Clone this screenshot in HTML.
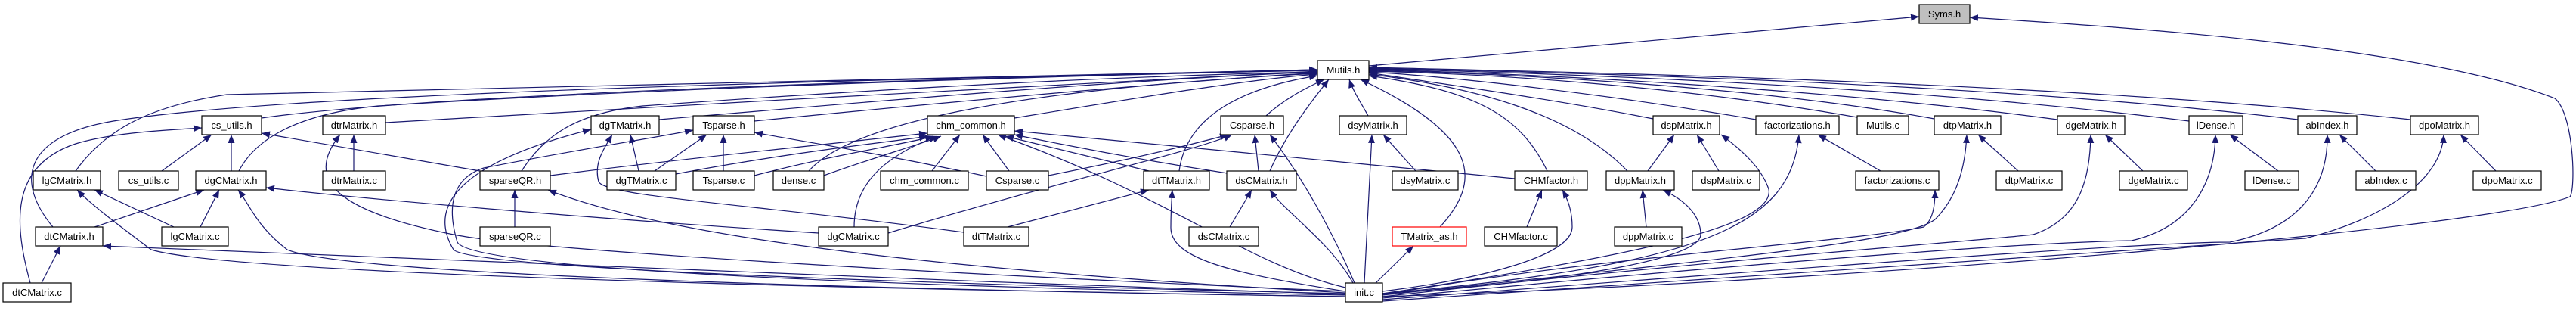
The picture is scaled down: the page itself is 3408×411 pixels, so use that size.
<!DOCTYPE html>
<html><head><meta charset="utf-8">
<style>
html,body{margin:0;padding:0;background:#fff;}
svg{display:block;}
text{font-family:"Liberation Sans",sans-serif;font-size:13px;fill:#000;text-anchor:middle;}
.n{fill:#fff;stroke:#000;stroke-width:1.2;}
.e{fill:none;stroke:#191970;stroke-width:1.2;marker-end:url(#a);}
</style></head><body>
<svg width="3408" height="411" viewBox="0 0 3408 411" xmlns="http://www.w3.org/2000/svg">
<defs><marker id="a" markerUnits="userSpaceOnUse" markerWidth="12" markerHeight="9" refX="11" refY="4.5" orient="auto"><path d="M0,0 L11,4.5 L0,9 z" fill="#191970"/></marker></defs>
<g>
<path class="e" d="M1811,87 L2539,22"/>
<path class="e" d="M1829,392 C2500,370 3300,300 3400,260 C3408,250 3405,150 3380,130 C3200,60 2800,35 2606,23"/>
<path class="e" d="M100,226 C140,170 200,140 300,125 C700,115 1400,100 1743,92"/>
<path class="e" d="M70,300 C20,240 30,180 150,160 C400,120 1200,105 1743,92"/>
<path class="e" d="M346,156 C600,120 1400,100 1743,92"/>
<path class="e" d="M316,226 C340,180 400,150 500,140 C900,115 1400,100 1743,93"/>
<path class="e" d="M510,162 C900,140 1400,110 1743,94"/>
<path class="e" d="M872,158 C1200,130 1500,105 1743,95"/>
<path class="e" d="M690,226 C720,180 760,150 850,140 C1200,115 1500,100 1743,95"/>
<path class="e" d="M998,160 C1300,130 1600,105 1743,96"/>
<path class="e" d="M1342,156 C1500,130 1650,105 1743,98"/>
<path class="e" d="M1070,226 C1120,170 1300,120 1743,97"/>
<path class="e" d="M1560,226 C1570,150 1650,115 1743,100"/>
<path class="e" d="M1675,153 C1700,130 1730,115 1752,105"/>
<path class="e" d="M1680,226 C1700,180 1730,140 1758,105"/>
<path class="e" d="M1810,153 C1800,135 1790,120 1785,105"/>
<path class="e" d="M1905,300 C1960,240 1960,180 1800,105"/>
<path class="e" d="M2047,226 C2010,150 1950,120 1811,100"/>
<path class="e" d="M2153,226 C2080,150 1950,115 1811,98"/>
<path class="e" d="M2187,157 C2050,130 1900,110 1811,96"/>
<path class="e" d="M2323,158 C2100,120 1900,100 1811,95"/>
<path class="e" d="M2457,155 C2200,110 1950,97 1811,94"/>
<path class="e" d="M2559,157 C2300,110 1950,96 1811,93"/>
<path class="e" d="M2722,158 C2400,115 2000,96 1811,92"/>
<path class="e" d="M2896,160 C2500,110 2000,95 1811,91"/>
<path class="e" d="M3040,158 C2600,105 2000,95 1811,90"/>
<path class="e" d="M3189,158 C2700,105 2000,94 1811,89"/>
<path class="e" d="M214,226 L280,178"/>
<path class="e" d="M306,226 L306,178"/>
<path class="e" d="M635,226 L346,176"/>
<path class="e" d="M40,374 C20,300 10,220 100,190 C150,175 220,172 267,169"/>
<path class="e" d="M468,226 L468,178"/>
<path class="e" d="M1780,385 C1200,360 700,330 600,310 C450,280 400,240 450,178"/>
<path class="e" d="M845,226 L834,178"/>
<path class="e" d="M1275,307 C1000,270 800,260 792,240 C785,215 800,195 810,178"/>
<path class="e" d="M1780,388 C1000,370 620,350 600,330 C570,280 590,220 782,171"/>
<path class="e" d="M1780,390 C1000,375 620,350 605,320 C590,270 600,235 640,222 C750,200 850,185 917,172"/>
<path class="e" d="M1780,392 C1000,380 300,360 200,330 C160,300 120,270 102,251"/>
<path class="e" d="M230,300 L125,251"/>
<path class="e" d="M265,300 L290,251"/>
<path class="e" d="M125,300 L270,251"/>
<path class="e" d="M1780,392 C1000,380 450,360 380,330 C340,300 330,270 315,251"/>
<path class="e" d="M1083,308 C800,290 500,265 352,248"/>
<path class="e" d="M55,374 L80,325"/>
<path class="e" d="M1780,389 C1200,370 500,340 136,325"/>
<path class="e" d="M1780,387 C1300,360 900,320 725,251"/>
<path class="e" d="M681,300 L681,251"/>
<path class="e" d="M866,226 L935,178"/>
<path class="e" d="M957,226 L957,178"/>
<path class="e" d="M1305,233 C1150,200 1050,185 998,175"/>
<path class="e" d="M894,230 C1050,200 1200,185 1227,180"/>
<path class="e" d="M998,232 C1100,205 1200,190 1235,180"/>
<path class="e" d="M1090,232 C1150,210 1220,190 1245,180"/>
<path class="e" d="M1233,226 L1270,178"/>
<path class="e" d="M1335,226 L1300,178"/>
<path class="e" d="M1130,300 C1130,250 1160,210 1240,180"/>
<path class="e" d="M1780,380 C1650,350 1550,260 1320,178"/>
<path class="e" d="M1520,226 L1330,180"/>
<path class="e" d="M1630,230 C1500,210 1400,190 1342,178"/>
<path class="e" d="M2004,236 C1800,215 1500,190 1342,173"/>
<path class="e" d="M728,232 C900,210 1100,190 1227,176"/>
<path class="e" d="M1387,232 C1500,210 1580,190 1625,178"/>
<path class="e" d="M1175,308 C1400,240 1580,200 1630,178"/>
<path class="e" d="M1665,226 L1660,178"/>
<path class="e" d="M1792,374 C1760,300 1720,230 1680,178"/>
<path class="e" d="M1333,300 L1520,251"/>
<path class="e" d="M1780,385 C1620,360 1548,340 1549,300 C1549,280 1550,265 1551,251"/>
<path class="e" d="M1627,300 L1656,251"/>
<path class="e" d="M1790,374 C1760,320 1700,280 1680,251"/>
<path class="e" d="M1873,226 L1830,178"/>
<path class="e" d="M1805,374 L1815,178"/>
<path class="e" d="M1820,374 L1870,325"/>
<path class="e" d="M2020,300 L2040,251"/>
<path class="e" d="M1829,385 C1950,370 2080,340 2080,300 C2080,280 2075,265 2067,251"/>
<path class="e" d="M2180,226 L2215,178"/>
<path class="e" d="M2274,226 L2245,178"/>
<path class="e" d="M1829,388 C2150,340 2350,300 2340,250 C2330,220 2300,195 2277,178"/>
<path class="e" d="M2178,300 L2173,251"/>
<path class="e" d="M1829,388 C2100,370 2250,340 2250,310 C2250,285 2230,265 2200,251"/>
<path class="e" d="M2488,226 L2405,178"/>
<path class="e" d="M1829,388 C2250,350 2370,300 2380,178"/>
<path class="e" d="M1829,390 C2100,340 2450,320 2545,300 C2558,290 2560,270 2560,251"/>
<path class="e" d="M2670,226 L2617,178"/>
<path class="e" d="M1829,390 C2300,340 2520,320 2560,290 C2590,260 2600,220 2602,178"/>
<path class="e" d="M2835,226 L2785,178"/>
<path class="e" d="M1829,392 C2300,340 2600,320 2690,310 C2750,290 2765,240 2766,178"/>
<path class="e" d="M3014,226 L2950,178"/>
<path class="e" d="M1829,394 C2400,340 2700,320 2820,318 C2900,300 2930,240 2931,178"/>
<path class="e" d="M3143,226 L3095,178"/>
<path class="e" d="M1829,396 C2500,345 2850,320 2950,320 C3050,300 3080,240 3079,178"/>
<path class="e" d="M3302,226 L3255,178"/>
<path class="e" d="M1829,398 C2500,350 3000,320 3050,315 C3150,290 3230,240 3233,178"/>
</g>
<g>
<rect x="2539" y="6" width="67" height="25" fill="#bfbfbf" stroke="#000" stroke-width="1.2"/><text x="2572.5" y="23">Syms.h</text>
<rect class="n" x="1743" y="80" width="68" height="25"/><text x="1777" y="97">Mutils.h</text>
<rect class="n" x="267" y="153" width="79" height="25"/><text x="306.5" y="170">cs_utils.h</text>
<rect class="n" x="427" y="153" width="83" height="25"/><text x="468.5" y="170">dtrMatrix.h</text>
<rect class="n" x="782" y="153" width="90" height="25"/><text x="827" y="170">dgTMatrix.h</text>
<rect class="n" x="917" y="153" width="81" height="25"/><text x="957.5" y="170">Tsparse.h</text>
<rect class="n" x="1227" y="153" width="115" height="25"/><text x="1284.5" y="170">chm_common.h</text>
<rect class="n" x="1615" y="153" width="83" height="25"/><text x="1656.5" y="170">Csparse.h</text>
<rect class="n" x="1772" y="153" width="89" height="25"/><text x="1816.5" y="170">dsyMatrix.h</text>
<rect class="n" x="2187" y="153" width="88" height="25"/><text x="2231" y="170">dspMatrix.h</text>
<rect class="n" x="2323" y="153" width="110" height="25"/><text x="2378" y="170">factorizations.h</text>
<rect class="n" x="2457" y="153" width="68" height="25"/><text x="2491" y="170">Mutils.c</text>
<rect class="n" x="2559" y="153" width="88" height="25"/><text x="2603" y="170">dtpMatrix.h</text>
<rect class="n" x="2722" y="153" width="89" height="25"/><text x="2766.5" y="170">dgeMatrix.h</text>
<rect class="n" x="2896" y="153" width="71" height="25"/><text x="2931.5" y="170">lDense.h</text>
<rect class="n" x="3040" y="153" width="78" height="25"/><text x="3079" y="170">abIndex.h</text>
<rect class="n" x="3189" y="153" width="90" height="25"/><text x="3234" y="170">dpoMatrix.h</text>

<rect class="n" x="44" y="226" width="89" height="25"/><text x="88.5" y="243">lgCMatrix.h</text>
<rect class="n" x="157" y="226" width="79" height="25"/><text x="196.5" y="243">cs_utils.c</text>
<rect class="n" x="259" y="226" width="93" height="25"/><text x="305.5" y="243">dgCMatrix.h</text>
<rect class="n" x="427" y="226" width="83" height="25"/><text x="468.5" y="243">dtrMatrix.c</text>
<rect class="n" x="635" y="226" width="93" height="25"/><text x="681.5" y="243">sparseQR.h</text>
<rect class="n" x="803" y="226" width="91" height="25"/><text x="848.5" y="243">dgTMatrix.c</text>
<rect class="n" x="917" y="226" width="81" height="25"/><text x="957.5" y="243">Tsparse.c</text>
<rect class="n" x="1023" y="226" width="67" height="25"/><text x="1056.5" y="243">dense.c</text>
<rect class="n" x="1165" y="226" width="116" height="25"/><text x="1223" y="243">chm_common.c</text>
<rect class="n" x="1305" y="226" width="82" height="25"/><text x="1346" y="243">Csparse.c</text>
<rect class="n" x="1513" y="226" width="87" height="25"/><text x="1556.5" y="243">dtTMatrix.h</text>
<rect class="n" x="1623" y="226" width="92" height="25"/><text x="1669" y="243">dsCMatrix.h</text>
<rect class="n" x="1842" y="226" width="87" height="25"/><text x="1885.5" y="243">dsyMatrix.c</text>
<rect class="n" x="2004" y="226" width="96" height="25"/><text x="2052" y="243">CHMfactor.h</text>
<rect class="n" x="2125" y="226" width="90" height="25"/><text x="2170" y="243">dppMatrix.h</text>
<rect class="n" x="2239" y="226" width="89" height="25"/><text x="2283.5" y="243">dspMatrix.c</text>
<rect class="n" x="2455" y="226" width="110" height="25"/><text x="2510" y="243">factorizations.c</text>
<rect class="n" x="2641" y="226" width="87" height="25"/><text x="2684.5" y="243">dtpMatrix.c</text>
<rect class="n" x="2804" y="226" width="90" height="25"/><text x="2849" y="243">dgeMatrix.c</text>
<rect class="n" x="2970" y="226" width="71" height="25"/><text x="3005.5" y="243">lDense.c</text>
<rect class="n" x="3117" y="226" width="79" height="25"/><text x="3156.5" y="243">abIndex.c</text>
<rect class="n" x="3272" y="226" width="90" height="25"/><text x="3317" y="243">dpoMatrix.c</text>

<rect class="n" x="47" y="300" width="89" height="25"/><text x="91.5" y="317">dtCMatrix.h</text>
<rect class="n" x="214" y="300" width="88" height="25"/><text x="258" y="317">lgCMatrix.c</text>
<rect class="n" x="635" y="300" width="93" height="25"/><text x="681.5" y="317">sparseQR.c</text>
<rect class="n" x="1083" y="300" width="92" height="25"/><text x="1129" y="317">dgCMatrix.c</text>
<rect class="n" x="1275" y="300" width="86" height="25"/><text x="1318" y="317">dtTMatrix.c</text>
<rect class="n" x="1573" y="300" width="92" height="25"/><text x="1619" y="317">dsCMatrix.c</text>
<rect x="1842" y="300" width="98" height="25" fill="#fff" stroke="#ff0000" stroke-width="1.2"/><text x="1891" y="317">TMatrix_as.h</text>
<rect class="n" x="1964" y="300" width="96" height="25"/><text x="2012" y="317">CHMfactor.c</text>
<rect class="n" x="2136" y="300" width="89" height="25"/><text x="2180.5" y="317">dppMatrix.c</text>

<rect class="n" x="4" y="374" width="90" height="25"/><text x="49" y="391">dtCMatrix.c</text>
<rect class="n" x="1780" y="374" width="49" height="25"/><text x="1804.5" y="391">init.c</text>
</g>
</svg>
</body></html>
